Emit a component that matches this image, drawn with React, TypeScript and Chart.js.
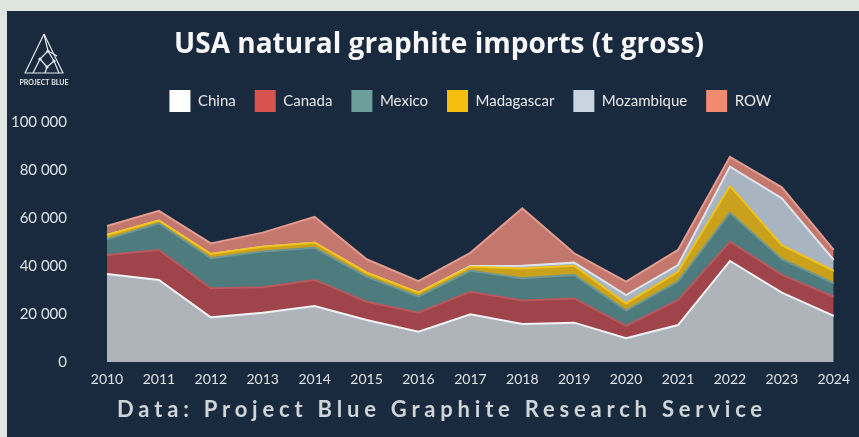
import React, { useEffect, useRef } from 'react';
import { Chart, registerables } from 'chart.js';

Chart.register(...registerables);

const years = ['2010', '2011', '2012', '2013', '2014', '2015', '2016', '2017', '2018', '2019', '2020', '2021', '2022', '2023', '2024'];
const china = [36700, 34200, 18600, 20500, 23300, 17500, 12600, 19900, 15800, 16400, 9900, 15400, 42100, 28900, 19200];
const canada = [7900, 12500, 12100, 10600, 10900, 7600, 7900, 9400, 9800, 10100, 5100, 10400, 8000, 7400, 8000];
const mexico = [6500, 11100, 12500, 14900, 13400, 10500, 6700, 8700, 9300, 9800, 6400, 7700, 12100, 6500, 5600];
const madagascar = [1800, 1100, 1800, 2000, 2100, 1600, 1700, 1700, 4100, 3800, 3000, 4100, 11100, 5900, 5200];
const mozambique = [0, 0, 0, 0, 0, 0, 0, 300, 1100, 1300, 3500, 2800, 8100, 19500, 4500];
const rowValues = [3800, 4100, 4400, 5900, 10800, 5600, 4800, 5500, 23900, 3900, 5600, 6300, 4100, 4600, 4200];
const seriesNames = ['China', 'Canada', 'Mexico', 'Madagascar', 'Mozambique', 'ROW'];
const yTickValues = [0, 20000, 40000, 60000, 80000, 100000];
const titleText = 'USA natural graphite imports (t gross)';
const footerText = 'Data: Project Blue Graphite Research Service';

const fillColors = ['#aeb4ba', '#9f444b', '#4e7b7e', '#c9a11c', '#a8b4c0', '#c4776d'];
const lineColors = ['#f2f3f4', '#b8585d', '#6c9794', '#f0c21a', '#dde4eb', '#e29c90'];
const legendColors = ['#ffffff', '#d6534f', '#6c9e9b', '#f6be0f', '#c8d5e1', '#f18b6f'];

const fmt = (v: number) => String(v).replace(/\B(?=(\d{3})+(?!\d))/g, ' ');

const decorPlugin = {
  id: 'decor',
  afterDraw(chart: any) {
    const ctx = chart.ctx as CanvasRenderingContext2D;
    ctx.save();
    // title
    ctx.font = 'bold 28px "Open Sans"';
    ctx.fillStyle = '#f7f7f7';
    ctx.textAlign = 'center';
    ctx.textBaseline = 'middle';
    ctx.fillText(titleText, 432, 34);
    // footer
    ctx.font = 'bold 22px Lato';
    (ctx as any).letterSpacing = '4.8px';
    ctx.fillStyle = '#cfd4d9';
    ctx.fillText(footerText, 435, 399);
    (ctx as any).letterSpacing = '0px';
    // logo
    ctx.strokeStyle = '#e4e8ec';
    ctx.lineWidth = 1.2;
    ctx.lineJoin = 'round';
    const seg = (pts: number[][]) => {
      ctx.beginPath();
      ctx.moveTo(pts[0][0], pts[0][1]);
      for (let i = 1; i < pts.length; i++) ctx.lineTo(pts[i][0], pts[i][1]);
      ctx.stroke();
    };
    seg([[37, 23], [18, 62], [56, 62], [37, 23]]);
    seg([[37, 23], [41, 40], [33, 48], [26, 62]]);
    seg([[41, 40], [47, 50], [40, 56], [33, 48]]);
    seg([[47, 50], [52, 62]]);
    seg([[40, 56], [38, 62]]);
    seg([[41, 40], [50, 45]]);
    ctx.fillStyle = '#e4e8ec';
    [[41, 40], [33, 48], [47, 50], [40, 56]].forEach(([x, y]) => {
      ctx.beginPath();
      ctx.arc(x, y, 1.6, 0, Math.PI * 2);
      ctx.fill();
    });
    ctx.font = 'bold 7px Lato';
    ctx.fillStyle = '#dfe4e8';
    ctx.fillText('PROJECT BLUE', 37, 72);
    ctx.restore();
  },
};

export default function App() {
  const ref = useRef<HTMLCanvasElement>(null);
  useEffect(() => {
    if (!ref.current) return;
    const values = [china, canada, mexico, madagascar, mozambique, rowValues];
    const chart = new Chart(ref.current, {
      type: 'line',
      data: {
        labels: years,
        datasets: values.map((d, i) => ({
          label: seriesNames[i],
          data: d,
          fill: i === 0 ? 'origin' : '-1',
          backgroundColor: fillColors[i],
          borderColor: lineColors[i],
          borderWidth: 2,
          pointRadius: 0,
          tension: 0,
        })),
      },
      options: {
        animation: false,
        responsive: false,
        devicePixelRatio: 1,
        layout: { padding: { left: 0, right: 21, top: 60, bottom: 0 } },
        plugins: {
          title: { display: false },
          legend: {
            position: 'top',
            fullSize: false,
            labels: {
              boxWidth: 21,
              boxHeight: 22,
              padding: 19,
              color: '#e6e8ea',
              font: { family: 'Lato', size: 15 },
              generateLabels: (c: any) =>
                c.data.datasets.map((ds: any, i: number) => ({
                  text: ds.label,
                  fillStyle: legendColors[i],
                  strokeStyle: legendColors[i],
                  lineWidth: 0,
                  hidden: false,
                  datasetIndex: i,
                  fontColor: '#e6e8ea',
                })),
            },
          },
          tooltip: { enabled: false },
        },
        scales: {
          x: {
            grid: { display: false, drawTicks: false },
            border: { display: false },
            ticks: { color: '#dde2e6', font: { family: 'Lato', size: 14 }, padding: 9, maxRotation: 0, autoSkip: false },
            afterFit: (s: any) => { s.height = 75; },
          },
          y: {
            stacked: true,
            min: 0,
            max: 100000,
            grid: { display: false, drawTicks: false },
            border: { display: false },
            afterBuildTicks: (s: any) => { s.ticks = yTickValues.map((v) => ({ value: v })); },
            ticks: { color: '#dde2e6', font: { family: 'Lato', size: 15 }, padding: 40, callback: (v: any) => fmt(Number(v)) },
            afterFit: (s: any) => { s.width = 100; },
          },
        },
      },
      plugins: [decorPlugin],
    } as any);
    return () => chart.destroy();
  }, []);
  return (
    <div style={{ position: 'fixed', inset: 0, background: '#dfe6e0' }}>
      <div style={{ position: 'absolute', left: 7, top: 11, width: 852, height: 426, background: '#1a2a3e' }}>
        <canvas ref={ref} width={852} height={426} style={{ display: 'block', width: 852, height: 426 }} />
      </div>
    </div>
  );
}
